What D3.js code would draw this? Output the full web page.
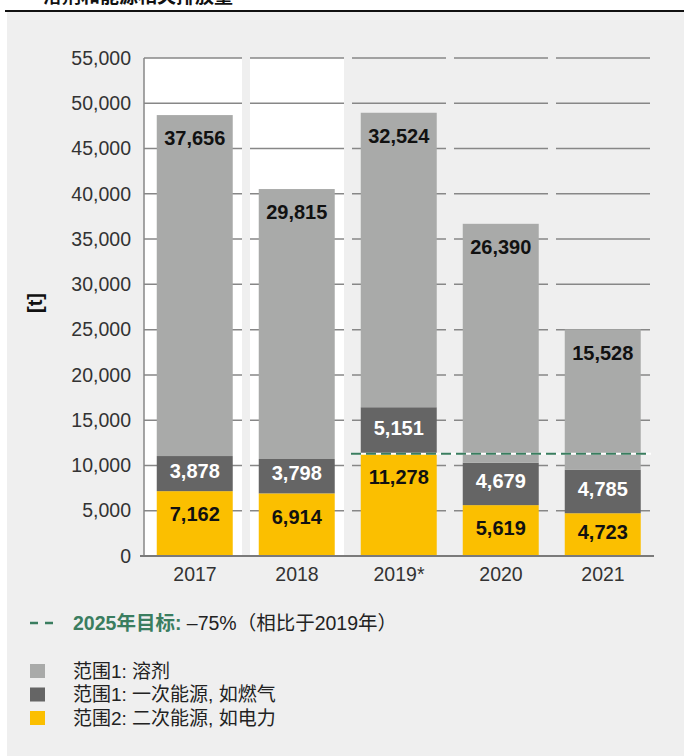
<!DOCTYPE html>
<html>
<head>
<meta charset="utf-8">
<script src="https://cdn.jsdelivr.net/npm/d3@7"></script>
<style>
  body { margin: 0; background: #fff; }
  svg { display: block; font-family: "Liberation Sans", Arial, "Noto Sans CJK SC", sans-serif; }
</style>
</head>
<body>
<div class="canvas"></div>
<script>
// chart data
const years = ['2017', '2018', '2019*', '2020', '2021']
const solvents = [37656, 29815, 32524, 26390, 15528]
const fuels = [3878, 3798, 5151, 4679, 4785]
const electricity = [7162, 6914, 11278, 5619, 4723]
const yTicks = [0, 5000, 10000, 15000, 20000, 25000, 30000, 35000, 40000, 45000, 50000, 55000]
const target = 11300
const legendItems = ['范围1: 溶剂', '范围1: 一次能源, 如燃气', '范围2: 二次能源, 如电力']

const colours = { electricity: '#fbbf00', fuels: '#656565', solvents: '#a9aaa9' }
const labelColours = { electricity: '#111', fuels: '#fff', solvents: '#111' }

const dims = { width: 684, height: 756 }
const plot = { left: 144, right: 654, top: 58, bottom: 556 }

const svg = d3.select('.canvas')
  .append('svg')
  .attr('width', dims.width)
  .attr('height', dims.height)

// panel background and header rule
svg.append('rect')
  .attr('x', 7).attr('y', 12)
  .attr('width', dims.width - 7).attr('height', dims.height - 12)
  .attr('fill', '#efefef')

svg.append('text')
  .attr('x', 43).attr('y', 3)
  .attr('font-family', '"Noto Sans CJK SC", sans-serif')
  .attr('font-weight', 'bold')
  .attr('font-size', 19)
  .attr('fill', '#111')
  .text('溶剂和能源相关排放量')

svg.append('line')
  .attr('x1', 5).attr('x2', dims.width)
  .attr('y1', 11).attr('y2', 11)
  .attr('stroke', '#111').attr('stroke-width', 2)

// scales
const x = d3.scaleBand()
  .domain(years)
  .range([plot.left, plot.right])

const y = d3.scaleLinear()
  .domain([0, 55000])
  .range([plot.bottom, plot.top])

const bw = x.bandwidth()
const gap = 4

// white backdrop behind the first two years
svg.append('g')
  .selectAll('rect')
  .data(years.slice(0, 2))
  .enter()
  .append('rect')
  .attr('x', (d, i) => i === 0 ? x(d) : x(d) + gap)
  .attr('width', (d, i) => i === 0 ? bw - gap : bw - 2 * gap)
  .attr('y', y(55000))
  .attr('height', y(0) - y(55000))
  .attr('fill', '#fff')

// gridlines, split per band
const grid = svg.append('g')
yTicks.filter(t => t > 0).forEach(t => {
  grid.selectAll(null)
    .data(years)
    .enter()
    .append('line')
    .attr('x1', (d, i) => i === 0 ? x(d) : x(d) + gap)
    .attr('x2', d => x(d) + bw - gap)
    .attr('y1', y(t)).attr('y2', y(t))
    .attr('stroke', '#878787')
    .attr('stroke-width', 1.5)
})

// stacked bars
const table = years.map((yr, i) => ({
  year: yr, electricity: electricity[i], fuels: fuels[i], solvents: solvents[i]
}))
const keys = ['electricity', 'fuels', 'solvents']
const series = d3.stack().keys(keys)(table)

const barPad = bw * 0.125
const barW = bw * 0.745

const layers = svg.append('g')
  .selectAll('g')
  .data(series)
  .enter()
  .append('g')
  .attr('fill', s => colours[s.key])

layers.selectAll('rect')
  .data(s => s)
  .enter()
  .append('rect')
  .attr('x', d => x(d.data.year) + barPad)
  .attr('width', barW)
  .attr('y', d => y(d[1]))
  .attr('height', d => y(d[0]) - y(d[1]))

layers.selectAll('text')
  .data(s => s.map(d => ({ d, key: s.key })))
  .enter()
  .append('text')
  .attr('x', o => x(o.d.data.year) + barPad + barW / 2)
  .attr('y', o => {
    const top = y(o.d[1])
    const h = y(o.d[0]) - top
    return top + Math.min(23, h / 2 - 3)
  })
  .attr('dy', '0.36em')
  .attr('text-anchor', 'middle')
  .attr('font-weight', 'bold')
  .attr('font-size', 20)
  .attr('fill', o => labelColours[o.key])
  .text(o => d3.format(',')(o.d.data[o.key]))

// target line (from 2019 onwards)
const tx1 = x(years[2]) + 3
const tx2 = plot.right - 3
svg.append('line')
  .attr('x1', tx1).attr('x2', tx2)
  .attr('y1', y(target)).attr('y2', y(target))
  .attr('stroke', '#fff').attr('stroke-width', 2)
svg.append('line')
  .attr('x1', tx1).attr('x2', tx2)
  .attr('y1', y(target)).attr('y2', y(target))
  .attr('stroke', '#3a7d5f').attr('stroke-width', 2)
  .attr('stroke-dasharray', '10 5')

// axes
svg.append('line')
  .attr('x1', plot.left).attr('x2', plot.left)
  .attr('y1', y(55000)).attr('y2', y(0))
  .attr('stroke', '#878787').attr('stroke-width', 1.5)

svg.append('line')
  .attr('x1', plot.left - 4).attr('x2', plot.right)
  .attr('y1', y(0)).attr('y2', y(0))
  .attr('stroke', '#7a7a7a').attr('stroke-width', 2)

const yAxis = svg.append('g')
  .attr('transform', `translate(${plot.left}, 0)`)
  .call(d3.axisLeft(y).tickValues(yTicks).tickFormat(d3.format(',')).tickSize(0).tickPadding(13))
yAxis.select('.domain').remove()
yAxis.selectAll('text')
  .attr('font-size', 19.5)
  .attr('font-family', '"Liberation Sans", Arial, sans-serif')
  .attr('fill', '#333')

const xAxis = svg.append('g')
  .attr('transform', `translate(0, ${plot.bottom})`)
  .call(d3.axisBottom(x).tickSize(0).tickPadding(11))
xAxis.select('.domain').remove()
xAxis.selectAll('text')
  .attr('font-size', 19.5)
  .attr('font-family', '"Liberation Sans", Arial, sans-serif')
  .attr('fill', '#333')

svg.append('text')
  .attr('transform', 'translate(35, 303) rotate(-90)')
  .attr('text-anchor', 'middle')
  .attr('dy', '0.36em')
  .attr('font-weight', 'bold')
  .attr('font-size', 20)
  .attr('fill', '#111')
  .text('[t]')

// legend: target
const legend = svg.append('g')
legend.append('line')
  .attr('x1', 30).attr('x2', 55)
  .attr('y1', 623).attr('y2', 623)
  .attr('stroke', '#3a7d5f').attr('stroke-width', 2.5)
  .attr('stroke-dasharray', '8 7')

const tgt = legend.append('text')
  .attr('x', 73).attr('y', 623)
  .attr('dy', '0.36em')
  .attr('font-size', 19.5)
  .attr('font-family', '"Liberation Sans", "Noto Sans CJK SC", sans-serif')
tgt.append('tspan')
  .attr('font-weight', 'bold')
  .attr('fill', '#3a7d5f')
  .text('2025年目标:')
tgt.append('tspan')
  .attr('fill', '#222')
  .text(' –75%（相比于2019年）')

// legend: series
const legendColours = [colours.solvents, colours.fuels, colours.electricity]
const rows = legend.selectAll('g.row')
  .data(legendItems)
  .enter()
  .append('g')
  .attr('class', 'row')
  .attr('transform', (d, i) => `translate(0, ${671 + i * 23.5})`)

rows.append('rect')
  .attr('x', 30).attr('y', -7)
  .attr('width', 15).attr('height', 14)
  .attr('fill', (d, i) => legendColours[i])

rows.append('text')
  .attr('x', 73)
  .attr('dy', '0.36em')
  .attr('font-size', 19)
  .attr('font-family', '"Liberation Sans", "Noto Sans CJK SC", sans-serif')
  .attr('fill', '#222')
  .text(d => d)
</script>
</body>
</html>
